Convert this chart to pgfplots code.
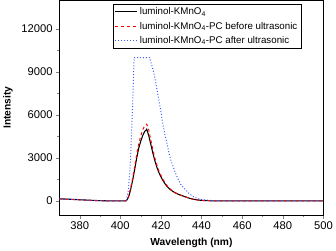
\documentclass[border=0pt]{standalone}
\usepackage{fontspec}
\setmainfont{Liberation Sans}
\usepackage{pgfplots}
\pgfplotsset{compat=1.18}
\begin{document}
\begin{tikzpicture}
\begin{axis}[
  scale only axis, width=270bp, height=220bp,
  xmin=370, xmax=500, ymin=-1000, ymax=14000,
  xtick={380,400,...,500}, ytick={0,3000,...,12000},
  minor x tick num=1, minor y tick num=1,
  tick align=outside, tick pos=left,
  major tick length=3.5pt, minor tick length=2pt,
  /pgf/number format/assume math mode=true,
  /pgf/number format/1000 sep={},
  scaled y ticks=false,
  tick label style={font=\fontsize{11.5}{12}\selectfont},
  xlabel={\textbf{Wavelength (nm)}}, ylabel={\textbf{Intensity}},
  label style={font=\fontsize{10.5}{12}\selectfont},
  xlabel style={yshift=-1pt},
  ylabel style={yshift=2pt},
  legend style={at={(0.915,0.982)}, anchor=north east, font=\fontsize{10}{11}\selectfont, draw=black, inner sep=1.5pt, row sep=2pt, legend cell align=left},
  legend image code/.code={\draw[mark repeat=2,mark phase=2] plot coordinates {(0cm,0cm) (0.4cm,0cm) (0.8cm,0cm)};},
]
\addplot[black, line width=1.1pt] coordinates {
(370,150)(375,120)(380,85)(385,50)(390,20)(395,5)(400,0)(402,0)(403,20)(404,250)(405,750)(406,1400)(407,2150)(408,2950)(409,3650)(410,4150)(411,4550)(412,4850)(413,5000)(414,4550)(415,3950)(416,3350)(417,2800)(418,2350)(419,1980)(420,1680)(421,1420)(422,1200)(423,1010)(424,870)(425,750)(426,650)(427,570)(428,500)(430,390)(432,290)(434,190)(436,120)(438,70)(440,40)(445,10)(450,0)(470,0)(500,0)};
\addlegendentry{luminol-KMnO\textsubscript{4}}
\addplot[red, dashed, line width=1pt] coordinates {
(370,140)(375,110)(380,80)(385,45)(390,18)(395,4)(400,0)(402,0)(403,25)(404,300)(405,850)(406,1550)(407,2350)(408,3200)(409,3950)(410,4500)(411,4950)(412,5250)(413,5350)(414,4950)(415,4250)(416,3600)(417,3000)(418,2500)(419,2100)(420,1780)(421,1500)(422,1270)(423,1070)(424,910)(425,780)(426,670)(428,500)(430,380)(432,280)(434,185)(436,115)(438,65)(440,35)(445,10)(450,0)(470,0)(500,0)};
\addlegendentry{luminol-KMnO\textsubscript{4}-PC before ultrasonic}
\addplot[color={rgb,255:red,60;green,90;blue,255}, dotted, line width=1pt] coordinates {
(370,140)(375,110)(380,80)(385,45)(390,18)(395,4)(400,0)(402,0)(403,30)(404,800)(405,2800)(406,6500)(406.8,10000)(414.4,10000)(415,9700)(416,9200)(417,8600)(418,7800)(419,7000)(420,6200)(421,5300)(422,4600)(423,4000)(424,3300)(425,2800)(426,2400)(427,2000)(428,1650)(430,1100)(432,800)(434,500)(436,300)(438,170)(440,100)(445,30)(450,0)(470,0)(500,0)};
\addlegendentry{luminol-KMnO\textsubscript{4}-PC after ultrasonic}
\end{axis}
\end{tikzpicture}
\end{document}
